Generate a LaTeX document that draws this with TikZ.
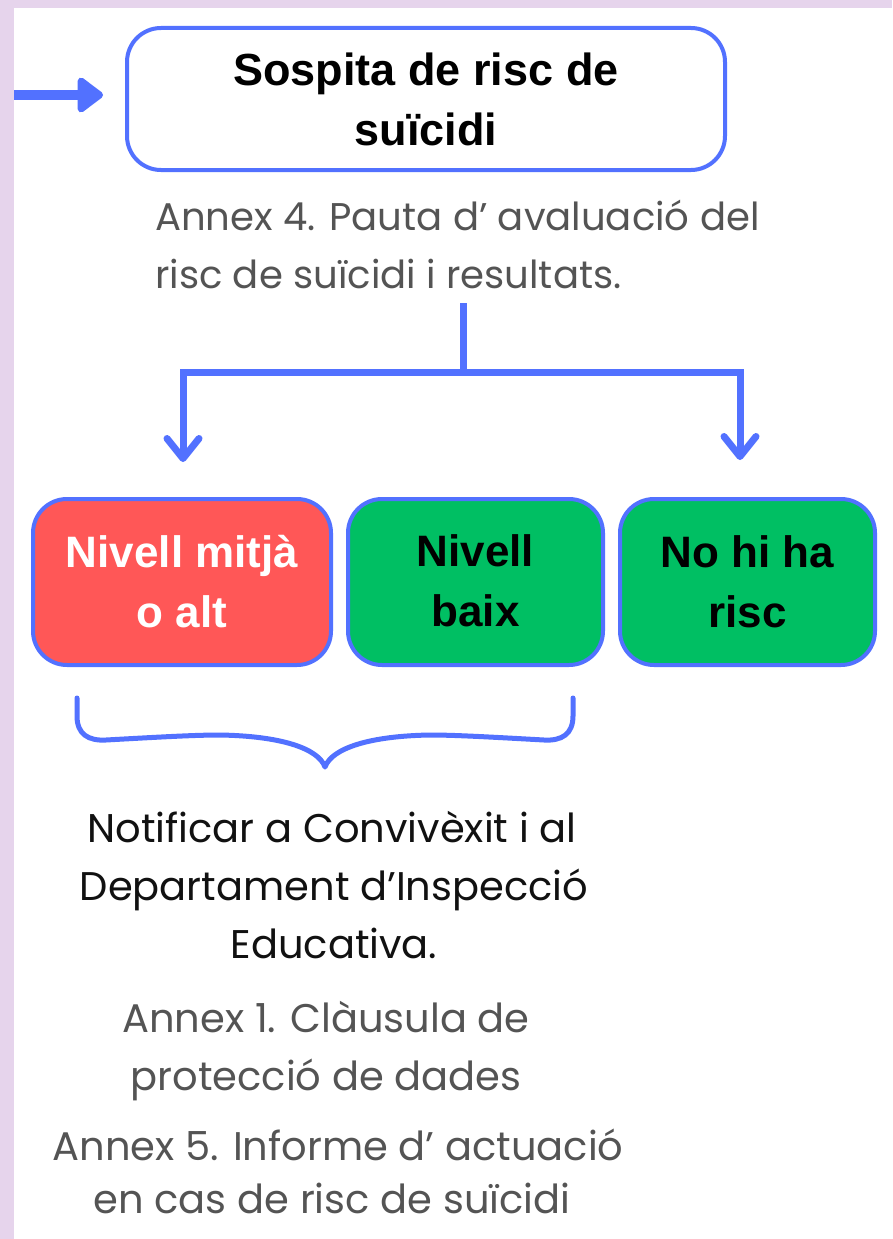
\documentclass[tikz,border=0pt]{standalone}
\usepackage{fontspec}
\setmainfont{Poppins}
\newfontfamily\arialf{Liberation Sans}
\usetikzlibrary{arrows.meta}
\definecolor{lav}{HTML}{E6D4EC}
\definecolor{cblue}{HTML}{5271FF}
\definecolor{cred}{HTML}{FF5757}
\definecolor{cgreen}{HTML}{00BF63}
\definecolor{cgray}{HTML}{545454}
\definecolor{ctext}{HTML}{111111}
\tikzset{mybarb/.tip={Straight Barb[round,length=20pt,width=32pt]}}
\begin{document}
\begin{tikzpicture}[x=1pt,y=-1pt,
  box/.style={draw=cblue, line width=4pt, rounded corners=34pt, inner sep=0pt, align=center,
    font=\arialf\bfseries\fontsize{44}{60}\selectfont},
  lvl/.style={box, minimum width=293pt, minimum height=166pt},
  conn/.style={draw=cblue, line width=7pt},
  para/.style={font=\fontsize{40}{50}\selectfont, inner sep=0pt, anchor=base},
  graytxt/.style={para, text=cgray},
  blacktxt/.style={para, text=ctext}]
\fill[lav] (0,0) rectangle (892,1239);
\fill[white] (14,8) rectangle (892,1239);
\useasboundingbox (0,0) rectangle (892,1239);

% top box
\node[box, minimum width=598pt, minimum height=142pt, fill=white,
  font=\arialf\bfseries\fontsize{45}{60}\selectfont] (sospita) at (426,99) {Sospita de risc de\\suïcidi};

% incoming arrow
\coordinate (inL) at (14,95);
\coordinate (inR) at (103,95);
\draw[cblue, line width=10pt, -{Triangle[round,length=28pt,width=40pt]}] (inL) -- (inR);

% annex 4 text
\node[graytxt, anchor=base west, font=\fontsize{38.6}{50}\selectfont] (a4a) at (155,230) {Annex 4. Pauta d’ avaluació del};
\node[graytxt, anchor=base west, font=\fontsize{38.6}{50}\selectfont] (a4b) at (155,288) {risc de suïcidi i resultats.};

% level boxes
\node[lvl, fill=cred, text=white, minimum width=298pt] (mitja) at (182,582) {Nivell mitjà\\o alt};
\node[lvl, fill=cgreen, text=black, minimum width=255pt] (baix) at (475.5,582) {\raisebox{3pt}{Nivell}\\\raisebox{3pt}{baix}};
\node[lvl, fill=cgreen, text=black, minimum width=255pt] (norisc) at (747.5,582) {\raisebox{-5pt}{No hi ha}\\\raisebox{-5pt}{risc}};

% connectors
\coordinate (stemtop) at (463,303);
\coordinate (barL) at (183,372);
\coordinate (barR) at (740,372);
\coordinate (tipL) at (183,462);
\coordinate (tipR) at (740,460);
\draw[conn] (stemtop) -- (stemtop |- barL);
\draw[conn, line join=miter, mybarb-mybarb]
  (tipL) -- (barL) -- (barR) -- (tipR);

% brace
\draw[cblue, line width=5pt, line cap=round, line join=round]
  (77,698) -- (77,716) .. controls (77,734) and (88,741) .. (106,740)
  .. controls (160,737) and (195,735) .. (220,735)
  .. controls (280,736) and (318,748) .. (325,767)
  .. controls (332,748) and (370,736) .. (430,735)
  .. controls (455,735) and (490,737) .. (544,740)
  .. controls (562,741) and (573,734) .. (573,716) -- (573,698);

% bottom texts
\node[blacktxt] (n1) at (332,842) {Notificar a Convivèxit i al};
\node[blacktxt] (n2) at (334,900) {Departament d’Inspecció};
\node[blacktxt] (n3) at (334,958) {Educativa.};
\node[graytxt] (b1) at (326,1032) {Annex 1. Clàusula de};
\node[graytxt] (b2) at (326,1090) {protecció de dades};
\node[graytxt] (b3) at (338,1160) {Annex 5. Informe d’ actuació};
\node[graytxt] (b4) at (332,1213) {en cas de risc de suïcidi};
\end{tikzpicture}
\end{document}
